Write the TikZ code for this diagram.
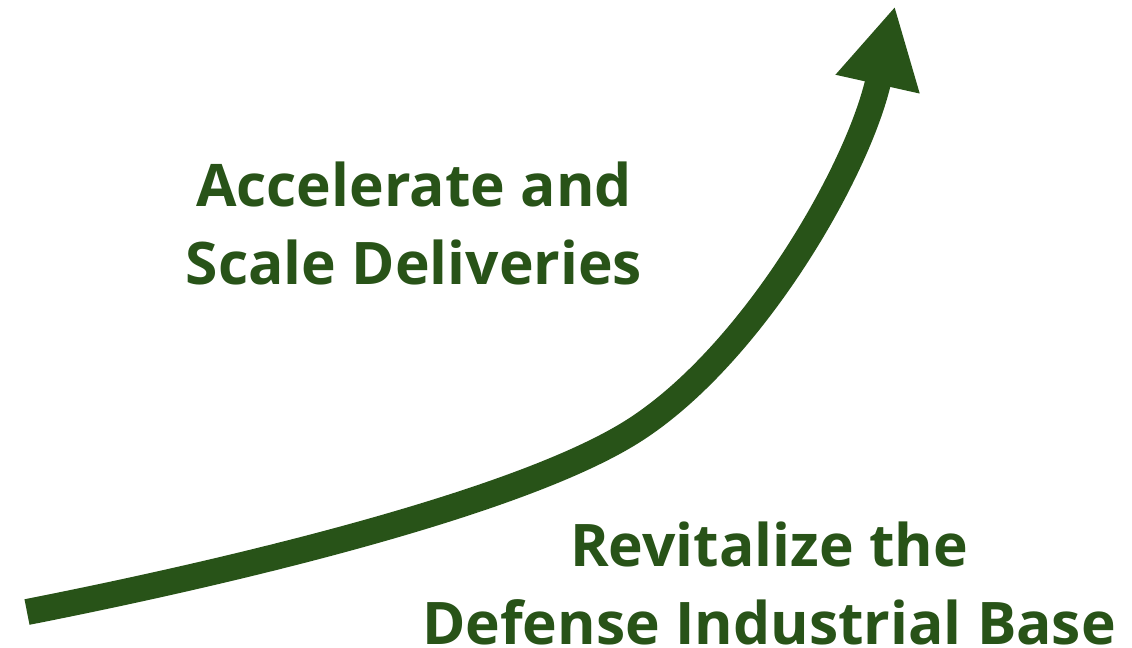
\documentclass[tikz,border=0pt]{standalone}
\usepackage{fontspec}
\setmainfont{Open Sans}
\usetikzlibrary{arrows.meta}
\definecolor{leafgreen}{RGB}{40,83,24}
\tikzset{
	goal/.style={text=leafgreen, font=\bfseries\fontsize{16.7}{22.2}\selectfont, align=center, inner sep=0pt},
	growth/.style={draw=leafgreen, line width=.26cm, -{Triangle[length=.8cm, width=.8cm]}}
}
\begin{document}
\begin{tikzpicture}[x=.01cm, y=-.01cm]
		\useasboundingbox (0,0) rectangle (1132,647);
		\coordinate (S) at (27,612);
		\coordinate (M) at (630,433);
		\coordinate (T) at (895,6);
		\node[goal] (scale) at (414,223) {Accelerate and\\Scale Deliveries};
		\node[goal] (base) at (769,583) {Revitalize the\\Defense Industrial Base};
		\draw[growth] (S) .. controls (210,576) and (510,507) .. (M) .. controls (750,359) and (858,172) .. (T);
	\end{tikzpicture}
\end{document}
